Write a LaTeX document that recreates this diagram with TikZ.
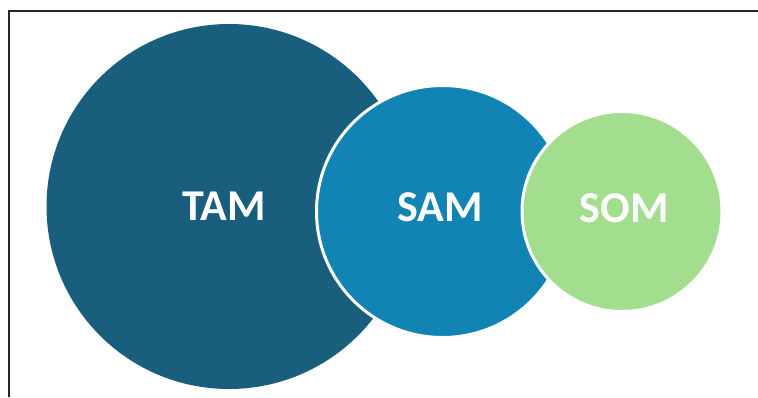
\documentclass[tikz,border=0pt]{standalone}
\usepackage{fontspec}
\setmainfont{Carlito}
\definecolor{tamblue}{RGB}{26,94,126}
\definecolor{samblue}{RGB}{17,132,180}
\definecolor{somgreen}{RGB}{163,222,142}

\begin{document}
\begin{tikzpicture}[x=1pt,y=-1pt]
\tikzset{market/.style={circle,inner sep=0pt},
         ring/.style={market,draw=white,line width=3pt},
         tag/.style={inner sep=0pt,text=white,font=\bfseries\fontsize{44}{48}\selectfont}}
\useasboundingbox (0,0) rectangle (758,397);

% outer frame, open to the right and bottom
\draw[line width=1.5pt,black!85] (9,397) -- (9,11) -- (758,11);

% the three markets, largest first
\node[market,fill=tamblue,minimum size=365pt] (tam) at (229,206.5) {};
\node[ring,fill=samblue,minimum size=252pt] (sam) at (442.5,211.5) {};
\node[ring,fill=somgreen,minimum size=200pt] (som) at (622,211.5) {};

% names
\node[tag] (tamtext) at (224,206) {TAM};
\node[tag] (samtext) at (440,207) {SAM};
\node[tag] (somtext) at (624,208) {SOM};

\end{tikzpicture}
\end{document}
